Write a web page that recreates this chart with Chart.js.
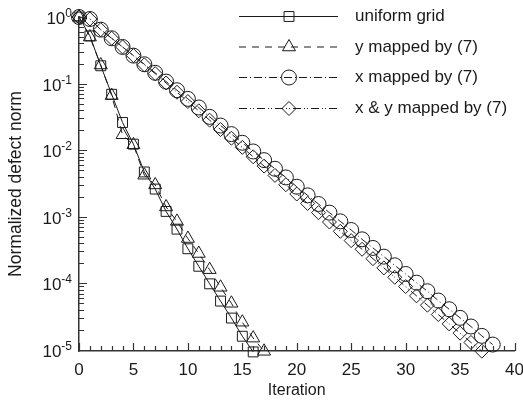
<!DOCTYPE html>
<html>
<head>
<meta charset="utf-8">
<script src="https://cdn.jsdelivr.net/npm/chart.js@4.4.1/dist/chart.umd.min.js"></script>
<style>
  html, body { margin: 0; padding: 0; background: #fff; }
  #wrap { width: 523px; height: 403px; }
</style>
</head>
<body>
<div id="wrap"><canvas id="myChart" width="523" height="403"></canvas></div>
<script>
// 반복 횟수에 따른 정규화 결함 노름 (인덱스 = 반복 횟수)
const uniformGrid = [1.0, 0.52, 0.185, 0.069, 0.026, 0.0123, 0.0047, 0.0026, 0.0012, 6.5e-4,
    3.3e-4, 1.8e-4, 9.8e-5, 5.4e-5, 3.0e-5, 1.6e-5, 9.3e-6];
const yMapped = [1.0, 0.5, 0.19, 0.066, 0.017, 0.012, 0.0042, 0.0030, 0.0014, 8.5e-4,
    4.7e-4, 2.8e-4, 1.6e-4, 8.7e-5, 5.0e-5, 2.6e-5, 1.5e-5, 9.5e-6];
const xMapped = [1.0, 0.933, 0.646, 0.479, 0.355, 0.263, 0.195, 0.145, 0.107, 0.0794,
    0.0589, 0.0437, 0.0316, 0.0234, 0.0174, 0.0129, 0.00955, 0.00708, 0.00525, 0.00389,
    0.00282, 0.00209, 0.00155, 0.00115, 8.51e-4, 6.31e-4, 4.57e-4, 3.39e-4, 2.51e-4, 1.86e-4,
    1.38e-4, 1.02e-4, 7.59e-5, 5.50e-5, 4.07e-5, 3.02e-5, 2.24e-5, 1.62e-5, 1.20e-5];
const xyMapped = [1.0, 0.933, 0.646, 0.479, 0.355, 0.263, 0.191, 0.141, 0.102, 0.0741,
    0.0537, 0.0389, 0.0282, 0.0204, 0.0151, 0.0110, 0.00794, 0.00575, 0.00417, 0.00302,
    0.00219, 0.00158, 0.00115, 8.32e-4, 6.03e-4, 4.37e-4, 3.24e-4, 2.34e-4, 1.70e-4, 1.23e-4,
    8.91e-5, 6.46e-5, 4.68e-5, 3.39e-5, 2.45e-5, 1.78e-5, 1.29e-5, 9.55e-6];

const seriesNames = ['uniform grid', 'y mapped by (7)', 'x mapped by (7)', 'x & y mapped by (7)'];
const xLabelValues = [0, 5, 10, 15, 20, 25, 30, 35, 40];
const yDecades = [-5, -4, -3, -2, -1, 0];

const INK = '#1a1a1a';
const FONT = '"Liberation Sans", Arial, Helvetica, sans-serif';

const toPoints = arr => arr.map((v, i) => ({ x: i, y: v }));

function series(label, values, pointStyle, radius, dash) {
    return {
        label: label,
        data: toPoints(values),
        borderColor: INK,
        borderWidth: 1,
        borderDash: dash,
        pointStyle: pointStyle,
        pointRadius: radius,
        pointBorderWidth: 1,
        pointBorderColor: INK,
        pointBackgroundColor: 'rgba(0,0,0,0)',
        tension: 0,
        clip: false
    };
}

const datasets = [
    series(seriesNames[0], uniformGrid, 'rect', 7, []),
    series(seriesNames[1], yMapped, 'triangle', 7.5, [7, 6]),
    series(seriesNames[2], xMapped, 'circle', 7.5, [8, 3, 1, 3]),
    series(seriesNames[3], xyMapped, 'rectRot', 7, [8, 3, 1, 2, 1, 3])
];

// 눈금(안쪽 방향), 지수 표기 y 라벨, 범례 그리기
const decorPlugin = {
    id: 'decor',
    afterDraw(chart) {
        const ctx = chart.ctx;
        const xs = chart.scales.x, ys = chart.scales.y;
        const area = chart.chartArea;
        ctx.save();
        ctx.strokeStyle = '#333';
        ctx.lineWidth = 1.2;
        ctx.setLineDash([]);

        ctx.beginPath();
        xs.ticks.forEach(t => {
            const px = Math.round(xs.getPixelForValue(t.value)) + 0.5;
            const len = t.value % 5 === 0 ? 8 : 5;
            ctx.moveTo(px, area.bottom);
            ctx.lineTo(px, area.bottom - len);
        });
        ys.ticks.forEach(t => {
            const py = Math.round(ys.getPixelForValue(t.value)) + 0.5;
            const e = Math.log10(t.value);
            const len = Math.abs(e - Math.round(e)) < 1e-6 ? 8 : 5;
            ctx.moveTo(area.left, py);
            ctx.lineTo(area.left + len, py);
        });
        ctx.stroke();

        // y 라벨: 10^n
        ctx.fillStyle = INK;
        ctx.textBaseline = 'alphabetic';
        yDecades.forEach(e => {
            const py = ys.getPixelForValue(Math.pow(10, e));
            const exp = e === 0 ? '0' : '-' + (-e);
            ctx.font = '12px ' + FONT;
            const ew = ctx.measureText(exp).width;
            const right = area.left - 7;
            ctx.textAlign = 'left';
            ctx.fillText(exp, right - ew, py);
            ctx.font = '17px ' + FONT;
            ctx.textAlign = 'right';
            ctx.fillText('10', right - ew, py + 7);
        });

        // 범례
        const rows = [16, 46.5, 77, 108];
        const x0 = 239, x1 = 338, xm = 289;
        chart.data.datasets.forEach((ds, i) => {
            const y = rows[i] + 0.5;
            ctx.strokeStyle = INK;
            ctx.lineWidth = 1;
            ctx.setLineDash(ds.borderDash);
            ctx.beginPath();
            ctx.moveTo(x0, y);
            ctx.lineTo(x1, y);
            ctx.stroke();
            ctx.setLineDash([]);
            ctx.fillStyle = 'rgba(0,0,0,0)';
            Chart.helpers.drawPoint(ctx, {
                pointStyle: ds.pointStyle, radius: ds.pointRadius,
                borderWidth: 1, rotation: 0
            }, xm, y);
            ctx.fillStyle = INK;
            ctx.font = '17px ' + FONT;
            ctx.textAlign = 'left';
            ctx.textBaseline = 'middle';
            ctx.fillText(ds.label, 355, y);
        });
        ctx.restore();
    }
};

const ctx = document.getElementById('myChart').getContext('2d');
const myChart = new Chart(ctx, {
    type: 'line',
    data: { datasets: datasets },
    options: {
        responsive: false,
        animation: false,
        layout: { padding: { top: 17, right: 7, left: 0, bottom: 0 } },
        plugins: { legend: { display: false }, tooltip: { enabled: false } },
        scales: {
            x: {
                type: 'linear',
                min: 0,
                max: 40,
                grid: { display: false, drawTicks: false },
                border: { display: true, color: '#333', width: 1.5 },
                ticks: {
                    stepSize: 1,
                    autoSkip: false,
                    maxRotation: 0,
                    padding: 9,
                    color: INK,
                    font: { family: FONT, size: 17 },
                    callback: v => xLabelValues.includes(v) ? String(v) : ''
                },
                title: {
                    display: true,
                    text: 'Iteration',
                    color: INK,
                    font: { family: FONT, size: 16 },
                    padding: { top: 0, bottom: 3 }
                },
                afterFit: s => { s.height = 52; s.paddingLeft = 0; s.paddingRight = 0; }
            },
            y: {
                type: 'logarithmic',
                min: 9.6e-6,
                max: 1,
                grid: { display: false, drawTicks: false },
                border: { display: true, color: '#333', width: 1.5 },
                ticks: { display: false },
                title: {
                    display: true,
                    text: 'Normalized defect norm',
                    color: INK,
                    font: { family: FONT, size: 17.5 },
                    padding: { top: 6, bottom: 0 }
                },
                afterBuildTicks: s => {
                    const vals = [];
                    yDecades.concat([-6]).forEach(e => {
                        for (let m = 1; m <= 9; m++) {
                            const v = m * Math.pow(10, e);
                            if (v >= s.min * 0.9999 && v <= s.max * 1.0001) vals.push({ value: v });
                        }
                    });
                    s.ticks = vals;
                },
                afterFit: s => { s.width = 79; s.paddingTop = 0; s.paddingBottom = 0; }
            }
        }
    },
    plugins: [decorPlugin]
});
</script>
</body>
</html>
